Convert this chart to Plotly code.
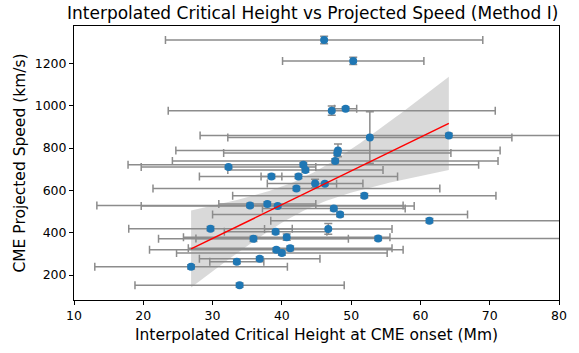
import numpy as np
import plotly.graph_objects as go

# Interpolated critical height at CME onset (Mm) and its uncertainty
height = [46.1, 50.3, 47.2, 49.2, 52.7, 64.1, 48.1, 48.0, 47.7, 43.1,
          43.4, 32.3, 38.5, 42.4, 44.8, 46.2, 42.1, 51.9, 35.4, 37.9,
          39.4, 47.5, 48.4, 46.7, 39.1, 29.7, 61.3, 35.9, 40.7, 53.9,
          39.2, 40.0, 41.2, 33.5, 36.8, 26.9, 33.9]
height_err = [22.9, 10.2, 23.6, 1.6, 20.5, 35.9, 23.4, 16.4, 23.5, 25.3,
              11.2, 12.6, 1.5, 14.3, 6.9, 1.7, 20.7, 19.0, 22.1, 7.0,
              19.7, 10.3, 18.4, 9.2, 7.4, 11.8, 22.9, 13.7, 14.9, 26.3,
              18.3, 15.2, 14.7, 3.9, 8.7, 13.9, 15.1]

# CME projected speed (km/s) and its uncertainty
speed = [1311, 1212, 977, 986, 850, 860, 789, 777, 739, 721,
         696, 711, 666, 666, 633, 631, 609, 575, 529, 536,
         526, 514, 486, 418, 404, 419, 457, 371, 379, 373,
         319, 304, 326, 263, 277, 239, 152]
speed_err = [18, 17, 22, 8, 122, 10, 30, 12, 10, 10,
             10, 10, 10, 10, 20, 8, 10, 10, 10, 10,
             10, 10, 10, 25, 10, 10, 10, 12, 15, 10,
             10, 10, 11, 10, 10, 10, 10]

x_ticks = [10, 20, 30, 40, 50, 60, 70, 80]
y_ticks = [200, 400, 600, 800, 1000, 1200]

# Ordinary least-squares fit with a 95% confidence band
x = np.array(height, dtype=float)
y = np.array(speed, dtype=float)
n = len(x)
slope, intercept = np.polyfit(x, y, 1)
resid = y - (slope * x + intercept)
s = np.sqrt(np.sum(resid ** 2) / (n - 2))
sxx = np.sum((x - x.mean()) ** 2)
t_val = 2.03
xs = np.linspace(x.min(), x.max(), 100)
ys = slope * xs + intercept
half = t_val * s * np.sqrt(1.0 / n + (xs - x.mean()) ** 2 / sxx)

fig = go.Figure()

fig.add_trace(go.Scatter(
    x=np.concatenate([xs, xs[::-1]]),
    y=np.concatenate([ys + half, (ys - half)[::-1]]),
    fill="toself", fillcolor="rgba(160,160,160,0.4)",
    line=dict(width=0), hoverinfo="skip", showlegend=False,
))

fig.add_trace(go.Scatter(
    x=height, y=speed, mode="markers",
    marker=dict(color="#1f77b4", size=8),
    error_x=dict(type="data", array=height_err, color="#8c8c8c",
                 thickness=1.5, width=4),
    error_y=dict(type="data", array=speed_err, color="#8c8c8c",
                 thickness=1.5, width=4),
    showlegend=False,
))

fig.add_trace(go.Scatter(
    x=xs, y=ys, mode="lines",
    line=dict(color="red", width=1.5), showlegend=False,
))

axis_common = dict(
    showline=True, mirror=True, linecolor="black", linewidth=1,
    ticks="outside", ticklen=4, tickcolor="black", tickwidth=1,
    showgrid=False, zeroline=False,
    tickfont=dict(size=12.5, color="black"),
)

fig.update_layout(
    width=579, height=353,
    margin=dict(l=74, r=18, t=26, b=39),
    paper_bgcolor="white", plot_bgcolor="white",
    font=dict(family="DejaVu Sans", color="black"),
    title=dict(text="Interpolated Critical Height vs Projected Speed (Method I)",
               x=0.54, xanchor="center", y=0.962, yanchor="middle",
               font=dict(size=17)),
    xaxis=dict(range=[10, 80], tickvals=x_ticks,
               title=dict(text="Interpolated Critical Height at CME onset (Mm)",
                          font=dict(size=15.5), standoff=7),
               **axis_common),
    yaxis=dict(range=[82, 1377], tickvals=y_ticks,
               title=dict(text="CME Projected Speed (km/s)",
                          font=dict(size=15.5), standoff=5),
               **axis_common),
)

fig.write_html("out.html")
